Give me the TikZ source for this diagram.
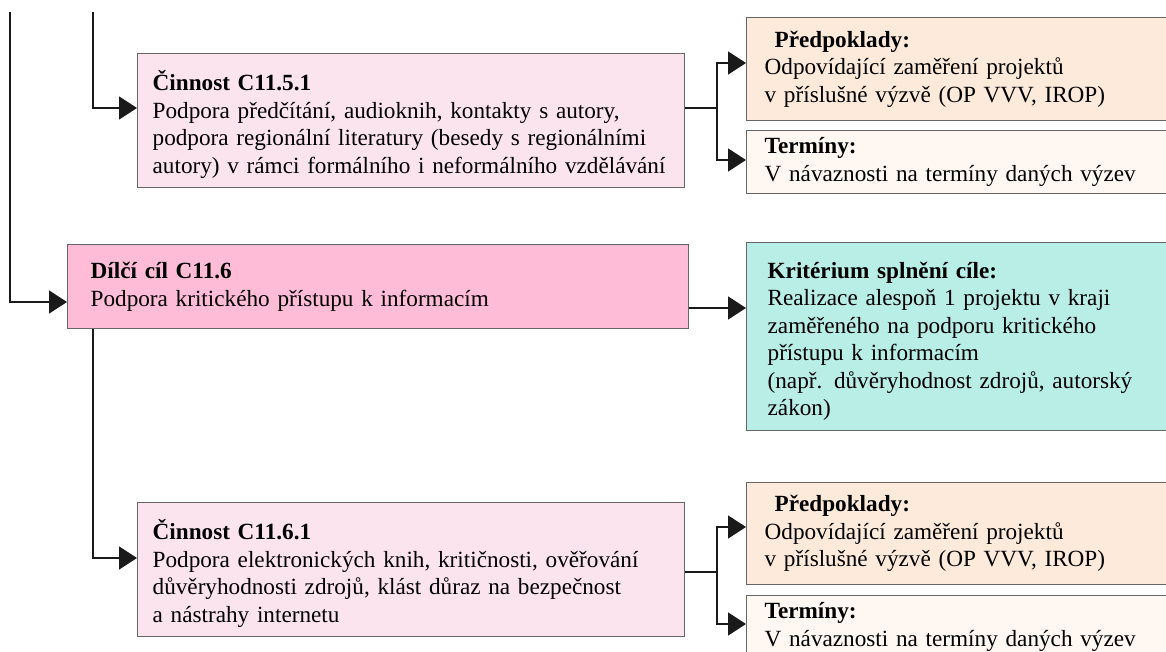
\documentclass[tikz,border=0pt]{standalone}
\usepackage{fontspec}
\setmainfont{Liberation Serif}
\usepackage{tikz}
\usetikzlibrary{arrows.meta,positioning}
\definecolor{LineDark}{HTML}{1A1A1A}
\definecolor{BoxEdge}{HTML}{666666}
\definecolor{ActPink}{HTML}{FCE4EE}
\definecolor{GoalPink}{HTML}{FFBCD6}
\definecolor{PremFill}{HTML}{FDEADA}
\definecolor{TermFill}{HTML}{FEF7F2}
\definecolor{CritFill}{HTML}{B8EEE6}

\begin{document}
\begin{tikzpicture}[
    x=1pt, y=-1pt,
    font=\fontsize{23.2}{27.5}\selectfont,
    box/.style={draw=BoxEdge, line width=1.3pt, anchor=north west, align=left, inner ysep=0pt},
    activity/.style={box, fill=ActPink, inner xsep=15pt, minimum width=547pt, minimum height=134pt, text width=517pt},
    side/.style={box, inner xsep=18pt, minimum width=434pt, text width=398pt},
    arrow/.style={-{Triangle[length=18pt,width=23pt]}, line width=1.6pt, LineDark},
    link/.style={line width=1.6pt, LineDark}
  ]
    \useasboundingbox (0,0) rectangle (1166,652);

    \node[activity] (act151) at (137,53) {\rule{0pt}{28pt}\textbf{Činnost C11.5.1}\\Podpora předčítání, audioknih, kontakty s autory,\\podpora regionální literatury (besedy s regionálními\\autory) v rámci formálního i neformálního vzdělávání};
    \node[side, fill=PremFill, minimum height=103pt] (prem1) at (746,17) {\hspace*{10pt}\textbf{Předpoklady:}\\Odpovídající zaměření projektů\\v příslušné výzvě (OP VVV, IROP)};
    \node[side, fill=TermFill, minimum height=63pt] (term1) at (746,130) {\textbf{Termíny:}\\V návaznosti na termíny daných výzev};

    \node[box, fill=GoalPink, inner xsep=23pt, minimum width=621pt, minimum height=84pt, text width=575pt] (goal116) at (67,244) {\textbf{Dílčí cíl C11.6}\\Podpora kritického přístupu k informacím};
    \node[box, fill=CritFill, inner xsep=21pt, minimum width=434pt, minimum height=188pt, text width=392pt] (crit116) at (746,242) {\rule{0pt}{26pt}\textbf{Kritérium splnění cíle:}\\Realizace alespoň 1 projektu v kraji\\zaměřeného na podporu kritického\\přístupu k informacím\\(např. důvěryhodnost zdrojů, autorský\\zákon)};

    \node[activity] (act161) at (137,502) {\rule{0pt}{28pt}\textbf{Činnost C11.6.1}\\Podpora elektronických knih, kritičnosti, ověřování\\důvěryhodnosti zdrojů, klást důraz na bezpečnost\\a nástrahy internetu};
    \node[side, fill=PremFill, minimum height=102pt] (prem2) at (746,482) {\hspace*{10pt}\textbf{Předpoklady:}\\Odpovídající zaměření projektů\\v příslušné výzvě (OP VVV, IROP)};
    \node[side, fill=TermFill, minimum height=63pt] (term2) at (746,595) {\textbf{Termíny:}\\V návaznosti na termíny daných výzev};

    \coordinate (top1) at (10,12);
    \coordinate (top2) at (93,12);
    \coordinate (fork1) at (717,108);
    \coordinate (fork2) at (717,572);

    \draw[arrow] (top2) |- ([yshift=-55pt]act151.north west);
    \draw[link] ([yshift=-55pt]act151.north east) -- (fork1);
    \draw[arrow] (fork1) |- ([yshift=-46pt]prem1.north west);
    \draw[arrow] (fork1) |- ([yshift=-30pt]term1.north west);

    \draw[arrow] (top1) |- ([yshift=-58pt]goal116.north west);
    \draw[arrow] ([yshift=-64pt]goal116.north east) -- ([yshift=-66pt]crit116.north west);
    \draw[arrow] (goal116.south -| top2) |- ([yshift=-56pt]act161.north west);

    \draw[link] ([yshift=-70pt]act161.north east) -- (fork2);
    \draw[arrow] (fork2) |- ([yshift=-45pt]prem2.north west);
    \draw[arrow] (fork2) |- ([yshift=-29pt]term2.north west);
  \end{tikzpicture}
\end{document}
